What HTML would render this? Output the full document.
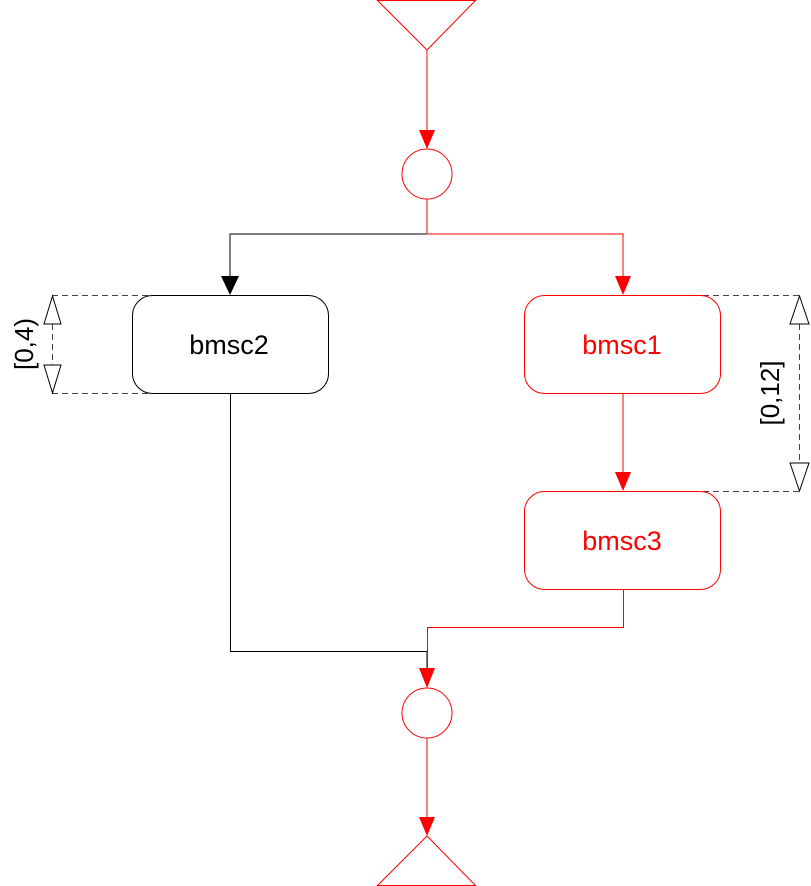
<!DOCTYPE html>
<html><head><meta charset="utf-8"><style>html,body{margin:0;padding:0;background:#fff}svg{display:block}</style></head>
<body>
<svg width="811" height="886" viewBox="0 0 811 886" xmlns="http://www.w3.org/2000/svg" font-family="Liberation Sans, sans-serif">
<g fill="none" stroke-width="1">
<polygon points="377.5,0.5 475.5,0.5 427,50" stroke="#f00" fill="#fff"/>
<line x1="427" y1="50" x2="427" y2="130" stroke="#f00"/>
<polygon points="419,130 435,130 427,149" fill="#f00" stroke="none"/>
<circle cx="427" cy="174" r="25" stroke="#f00" fill="#fff"/>
<polyline points="427,199 427,234 230,234 230,276" stroke="#000"/>
<polygon points="221,276 239,276 230,295" fill="#000"/>
<polyline points="427,199 427,234 623,234 623,276" stroke="#f00"/>
<polygon points="615,276 631,276 623,295" fill="#f00"/>
<g stroke="#444" stroke-dasharray="6,4">
<line x1="52" y1="295.5" x2="230" y2="295.5"/>
<line x1="52" y1="393.5" x2="230" y2="393.5"/>
<line x1="52.5" y1="324" x2="52.5" y2="366"/>
<line x1="623" y1="295.5" x2="799" y2="295.5"/>
<line x1="623" y1="491.5" x2="799" y2="491.5"/>
<line x1="799.5" y1="324" x2="799.5" y2="463"/>
</g>
<polygon points="52.5,296 44,324 61,324" stroke="#000" fill="#fff"/>
<polygon points="52.5,393 44,365 61,365" stroke="#000" fill="#fff"/>
<polygon points="799.5,296 790,324 809,324" stroke="#000" fill="#fff"/>
<polygon points="799.5,491 790,463 809,463" stroke="#000" fill="#fff"/>
<rect x="132.5" y="295.5" width="196" height="98" rx="20" stroke="#000"/>
<rect x="524.5" y="295.5" width="196" height="98" rx="20" stroke="#f00"/>
<line x1="623" y1="393" x2="623" y2="472" stroke="#f00"/>
<polygon points="615,472 631,472 623,491" fill="#f00"/>
<rect x="524.5" y="491.5" width="196" height="98" rx="20" stroke="#f00"/>
<polyline points="230.5,393 230.5,651.5 427,651.5 427,668" stroke="#000"/>
<polyline points="623.5,589 623.5,627.5 427.5,627.5 427.5,668" stroke="#f00"/>
<polygon points="419,668 435,668 427,688" fill="#f00"/>
<circle cx="427" cy="713" r="25" stroke="#f00" fill="#fff"/>
<line x1="427" y1="738" x2="427" y2="817" stroke="#f00"/>
<polygon points="419,817 435,817 427,836" fill="#f00"/>
<polygon points="427,836 377.5,885.5 475.5,885.5" stroke="#f00" fill="#fff"/>
</g>
<g font-size="27" text-anchor="middle">
<text x="229" y="354" fill="#000">bmsc2</text>
<text x="622" y="354" fill="#f00">bmsc1</text>
<text x="622" y="550" fill="#f00">bmsc3</text>
<text transform="translate(33,344) rotate(-90)" fill="#000" font-size="26">[0,4)</text>
<text transform="translate(779,393) rotate(-90)" fill="#000" font-size="26">[0,12]</text>
</g>
</svg>
</body></html>
